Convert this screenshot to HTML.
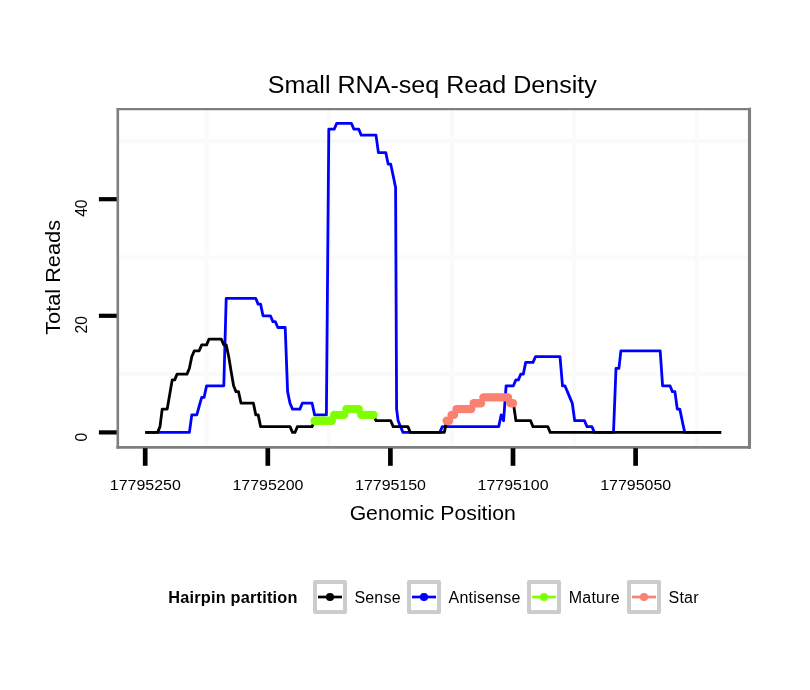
<!DOCTYPE html>
<html lang="en">
<head>
<meta charset="utf-8">
<title>Small RNA-seq Read Density</title>
<style>
html,body{margin:0;padding:0;background:#fff;}
body{width:810px;height:690px;overflow:hidden;}
</style>
</head>
<body>
<svg width="810" height="690" viewBox="0 0 810 690" style="display:block">
<rect width="810" height="690" fill="#fff"/>
<g stroke="#fafafa" stroke-width="4"><line x1="117.8" x2="749.5" y1="374.1" y2="374.1"/><line x1="117.8" x2="749.5" y1="257.5" y2="257.5"/><line x1="117.8" x2="749.5" y1="140.9" y2="140.9"/><line x1="206.5" x2="206.5" y1="109.0" y2="447.4"/><line x1="329.1" x2="329.1" y1="109.0" y2="447.4"/><line x1="451.7" x2="451.7" y1="109.0" y2="447.4"/><line x1="574.3" x2="574.3" y1="109.0" y2="447.4"/><line x1="696.9" x2="696.9" y1="109.0" y2="447.4"/></g>
<polyline points="145.2,432.4 189.4,432.4 191.8,414.9 196.8,414.9 199.2,406.2 201.7,397.4 204.1,397.4 206.6,385.8 223.8,385.8 226.2,298.3 255.7,298.3 258.1,304.1 260.6,304.1 263.0,315.8 270.4,315.8 272.9,321.6 275.3,321.6 277.8,327.5 285.2,327.5 287.6,391.6 290.0,403.2 292.5,409.1 299.9,409.1 302.3,403.2 312.1,403.2 314.6,414.9 326.4,414.9 328.8,129.2 334.2,129.2 336.7,123.4 351.4,123.4 353.9,129.2 358.8,129.2 361.2,135.1 376.0,135.1 378.4,152.6 385.8,152.6 388.2,164.2 390.7,164.2 393.2,175.9 395.6,187.5 396.6,409.1 398.1,420.7 400.5,426.6 403.0,432.4 439.8,432.4 442.3,426.6 498.7,426.6 501.2,414.9 503.6,420.7 506.1,385.8 513.4,385.8 515.9,379.9 518.4,379.9 520.8,374.1 523.3,374.1 525.7,362.4 533.0,362.4 535.5,356.6 560.0,356.6 562.5,385.8 564.9,385.8 567.4,391.6 569.8,397.4 572.3,403.2 574.7,420.7 584.5,420.7 587.0,426.6 591.9,426.6 594.4,432.4 613.5,432.4 616.0,368.3 618.9,368.3 620.9,350.8 660.2,350.8 662.6,385.8 670.0,385.8 672.4,391.6 674.9,391.6 677.3,409.1 679.8,409.1 682.2,420.7 684.7,432.4 721.2,432.4" fill="none" stroke="#0000ff" stroke-width="2.8" stroke-linejoin="round"/>
<polyline points="145.2,432.4 157.6,432.4 160.0,426.6 162.2,409.1 167.2,409.1 169.7,394.5 172.2,379.9 174.7,379.9 177.1,374.1 187.0,374.1 189.4,368.3 191.8,356.6 194.3,350.8 199.2,350.8 201.7,344.9 206.6,344.9 209.0,339.1 221.3,339.1 223.8,344.9 226.2,344.9 228.7,356.6 231.1,371.2 233.6,385.8 236.0,391.6 238.5,391.6 241.0,403.2 253.4,403.2 255.8,414.9 258.2,414.9 260.6,426.6 290.0,426.6 292.5,432.4 295.0,432.4 297.4,426.6 312.1,426.6 314.6,420.7 331.8,420.7 334.2,414.9 344.0,414.9 346.5,409.1 358.8,409.1 361.2,414.9 373.5,414.9 376.0,420.7 390.7,420.7 393.2,426.6 407.9,426.6 410.3,432.4 444.3,432.4 446.7,420.7 449.6,420.7 452.1,414.9 454.5,414.9 456.9,409.1 471.7,409.1 474.2,403.2 481.5,403.2 484.0,397.4 508.5,397.4 511.0,403.2 513.4,403.2 515.9,420.7 530.6,420.7 533.0,426.6 547.8,426.6 550.2,432.4 721.2,432.4" fill="none" stroke="#000" stroke-width="2.8" stroke-linejoin="round"/>
<g fill="#7fff00"><circle cx="314.6" cy="420.7" r="4.2"/><circle cx="317.0" cy="420.7" r="4.2"/><circle cx="319.5" cy="420.7" r="4.2"/><circle cx="322.0" cy="420.7" r="4.2"/><circle cx="324.4" cy="420.7" r="4.2"/><circle cx="326.9" cy="420.7" r="4.2"/><circle cx="329.3" cy="420.7" r="4.2"/><circle cx="331.8" cy="420.7" r="4.2"/><circle cx="334.2" cy="414.9" r="4.2"/><circle cx="336.7" cy="414.9" r="4.2"/><circle cx="339.1" cy="414.9" r="4.2"/><circle cx="341.6" cy="414.9" r="4.2"/><circle cx="344.1" cy="414.9" r="4.2"/><circle cx="346.5" cy="409.1" r="4.2"/><circle cx="349.0" cy="409.1" r="4.2"/><circle cx="351.4" cy="409.1" r="4.2"/><circle cx="353.9" cy="409.1" r="4.2"/><circle cx="356.3" cy="409.1" r="4.2"/><circle cx="358.8" cy="409.1" r="4.2"/><circle cx="361.2" cy="414.9" r="4.2"/><circle cx="363.7" cy="414.9" r="4.2"/><circle cx="366.1" cy="414.9" r="4.2"/><circle cx="368.6" cy="414.9" r="4.2"/><circle cx="371.1" cy="414.9" r="4.2"/><circle cx="373.5" cy="414.9" r="4.2"/></g>
<g fill="#fa8072"><circle cx="446.7" cy="420.7" r="4.2"/><circle cx="449.1" cy="420.7" r="4.2"/><circle cx="451.6" cy="414.9" r="4.2"/><circle cx="454.0" cy="414.9" r="4.2"/><circle cx="456.5" cy="409.1" r="4.2"/><circle cx="458.9" cy="409.1" r="4.2"/><circle cx="461.4" cy="409.1" r="4.2"/><circle cx="463.9" cy="409.1" r="4.2"/><circle cx="466.3" cy="409.1" r="4.2"/><circle cx="468.8" cy="409.1" r="4.2"/><circle cx="471.2" cy="409.1" r="4.2"/><circle cx="473.7" cy="403.2" r="4.2"/><circle cx="476.1" cy="403.2" r="4.2"/><circle cx="478.6" cy="403.2" r="4.2"/><circle cx="481.0" cy="403.2" r="4.2"/><circle cx="483.5" cy="397.4" r="4.2"/><circle cx="485.9" cy="397.4" r="4.2"/><circle cx="488.4" cy="397.4" r="4.2"/><circle cx="490.9" cy="397.4" r="4.2"/><circle cx="493.3" cy="397.4" r="4.2"/><circle cx="495.8" cy="397.4" r="4.2"/><circle cx="498.2" cy="397.4" r="4.2"/><circle cx="500.7" cy="397.4" r="4.2"/><circle cx="503.1" cy="397.4" r="4.2"/><circle cx="505.6" cy="397.4" r="4.2"/><circle cx="508.0" cy="397.4" r="4.2"/><circle cx="510.5" cy="403.2" r="4.2"/><circle cx="513.0" cy="403.2" r="4.2"/></g>
<g stroke="#7f7f7f" stroke-linecap="square"><line x1="117.8" x2="749.5" y1="109.15" y2="109.15" stroke-width="2.3"/><line x1="117.8" x2="749.5" y1="447.3" y2="447.3" stroke-width="2.8"/><line x1="117.8" x2="117.8" y1="109.2" y2="447.3" stroke-width="2.6"/><line x1="749.5" x2="749.5" y1="109.2" y2="447.3" stroke-width="3.1"/></g>
<g stroke="#000" stroke-width="4.2"><line x1="145.2" x2="145.2" y1="448.2" y2="465.8" stroke-width="4.7"/><line x1="267.8" x2="267.8" y1="448.2" y2="465.8" stroke-width="4.7"/><line x1="390.4" x2="390.4" y1="448.2" y2="465.8" stroke-width="4.7"/><line x1="513.0" x2="513.0" y1="448.2" y2="465.8" stroke-width="4.7"/><line x1="635.6" x2="635.6" y1="448.2" y2="465.8" stroke-width="4.7"/><line x1="98.9" x2="116.7" y1="432.4" y2="432.4"/><line x1="98.9" x2="116.7" y1="315.8" y2="315.8"/><line x1="98.9" x2="116.7" y1="199.2" y2="199.2"/></g>
<g font-family="'Liberation Sans', Arial, Helvetica, sans-serif" fill="#000">
<text transform="translate(432.3,92.7) scale(1.046,1)" font-size="24" text-anchor="middle">Small RNA-seq Read Density</text>
<text transform="translate(432.7,519.6) scale(1.04,1)" font-size="20.4" text-anchor="middle">Genomic Position</text>
<text transform="translate(60.3,277.4) scale(0.95,1) rotate(-90)" font-size="21.75" text-anchor="middle">Total Reads</text>
<text transform="translate(145.3,490.1) scale(1.03,1)" font-size="15.5" text-anchor="middle">17795250</text>
<text transform="translate(267.9,490.1) scale(1.03,1)" font-size="15.5" text-anchor="middle">17795200</text>
<text transform="translate(390.5,490.1) scale(1.03,1)" font-size="15.5" text-anchor="middle">17795150</text>
<text transform="translate(513.1,490.1) scale(1.03,1)" font-size="15.5" text-anchor="middle">17795100</text>
<text transform="translate(635.7,490.1) scale(1.03,1)" font-size="15.5" text-anchor="middle">17795050</text>
<text transform="translate(87.3,432.7) scale(1.03,1) rotate(-90)" font-size="15.6" text-anchor="end">0</text>
<text transform="translate(87.3,316.1) scale(1.03,1) rotate(-90)" font-size="15.6" text-anchor="end">20</text>
<text transform="translate(87.3,199.5) scale(1.03,1) rotate(-90)" font-size="15.6" text-anchor="end">40</text>
<text x="168.2" y="602.7" font-size="16.3" font-weight="bold" letter-spacing="0.22">Hairpin partition</text>
<rect x="315" y="582" width="30" height="30" fill="#fff" stroke="#ccc" stroke-width="4" stroke-linejoin="round"/>
<line x1="318" x2="342" y1="597" y2="597" stroke="#000" stroke-width="2.7"/>
<circle cx="330" cy="597" r="4.1" fill="#000"/>
<text x="354.4" y="602.5" font-size="16" letter-spacing="0.2">Sense</text>
<rect x="409" y="582" width="30" height="30" fill="#fff" stroke="#ccc" stroke-width="4" stroke-linejoin="round"/>
<line x1="412" x2="436" y1="597" y2="597" stroke="#0000ff" stroke-width="2.7"/>
<circle cx="424" cy="597" r="4.1" fill="#0000ff"/>
<text x="448.6" y="602.5" font-size="16" letter-spacing="0.2">Antisense</text>
<rect x="529" y="582" width="30" height="30" fill="#fff" stroke="#ccc" stroke-width="4" stroke-linejoin="round"/>
<line x1="532" x2="556" y1="597" y2="597" stroke="#7fff00" stroke-width="2.7"/>
<circle cx="544" cy="597" r="4.1" fill="#7fff00"/>
<text x="568.8" y="602.5" font-size="16" letter-spacing="0.2">Mature</text>
<rect x="629" y="582" width="30" height="30" fill="#fff" stroke="#ccc" stroke-width="4" stroke-linejoin="round"/>
<line x1="632" x2="656" y1="597" y2="597" stroke="#fa8072" stroke-width="2.7"/>
<circle cx="644" cy="597" r="4.1" fill="#fa8072"/>
<text x="668.6" y="602.5" font-size="16" letter-spacing="0.2">Star</text>
</g>
</svg>
</body>
</html>
